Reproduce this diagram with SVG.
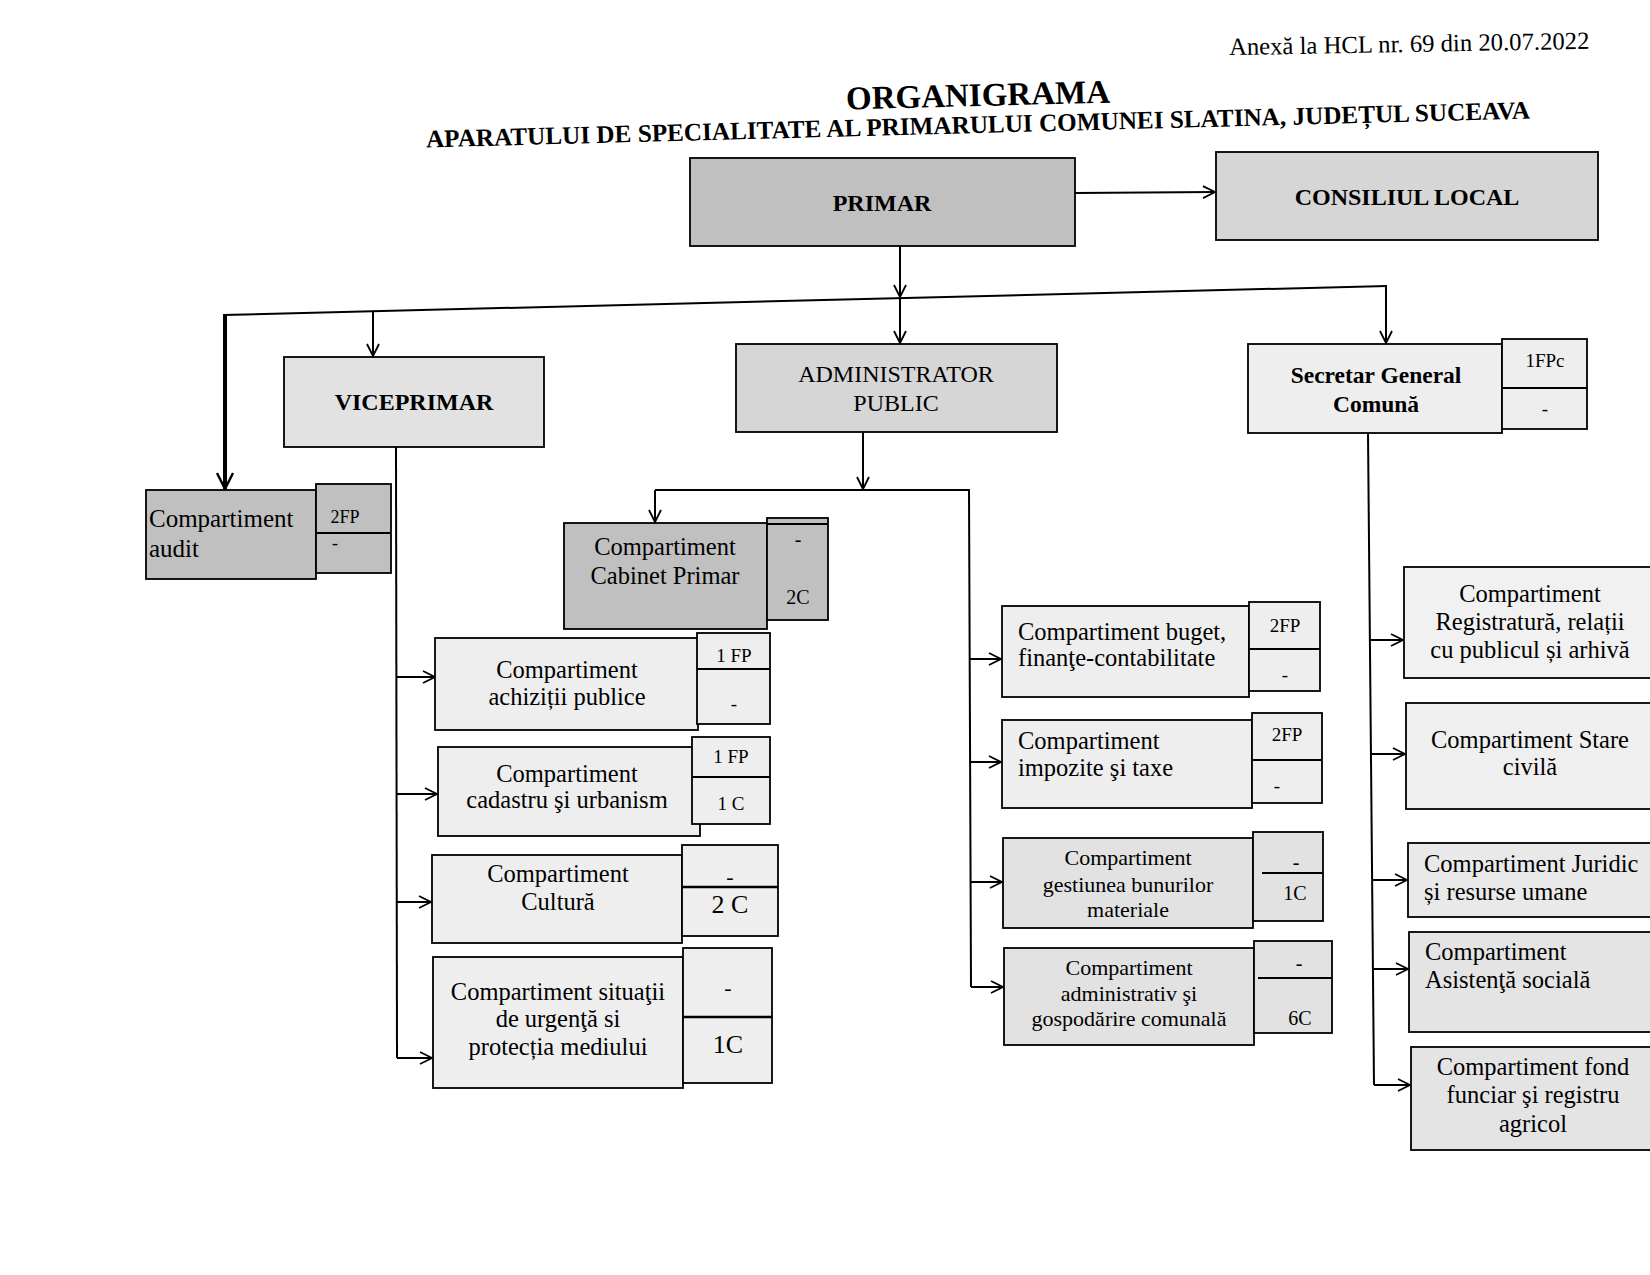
<svg xmlns="http://www.w3.org/2000/svg" width="1650" height="1275" viewBox="0 0 1650 1275">
<style>
text{font-family:"Liberation Serif","Times New Roman",serif;fill:#000;font-size:24.5px}
.c{text-anchor:middle}
.b{font-weight:bold}
.s{font-size:19px}
.m{font-size:22px}
.g{font-size:26px}
.f18{font-size:18px}
.f20{font-size:20px}
.f23{font-size:23.5px}
.f24{font-size:24px}
.f25{font-size:25px}
.f32{font-size:33px}
.hd{font-size:24.7px}
.sub{font-size:25.2px}
.box,.ln{stroke:#000;stroke-width:1.8}
.dk{fill:#c0c0c0}
.md{fill:#d6d6d6}
.lt{fill:#e2e2e2}
.xl{fill:#eeeeee}
.cn{fill:none;stroke:#000;stroke-width:2}
.ar{marker-end:url(#ah)}
</style>
<defs>
<marker id="ah" viewBox="0 0 14 14" refX="13" refY="7" markerWidth="14" markerHeight="14" markerUnits="userSpaceOnUse" orient="auto">
<path d="M1,1 L13,7 L1,13" fill="none" stroke="#000" stroke-width="1.8"/>
</marker>
<marker id="ahb" viewBox="0 0 18 18" refX="17" refY="9" markerWidth="18" markerHeight="18" markerUnits="userSpaceOnUse" orient="auto">
<path d="M1,1 L17,9 L1,17" fill="none" stroke="#000" stroke-width="2.4"/>
</marker>
</defs>
<rect x="0" y="0" width="1650" height="1275" fill="#fff"/>

<g id="header">
<text class="hd" x="1229" y="52" transform="rotate(-1 1408 45)">Anexă la HCL nr. 69 din 20.07.2022</text>
<text class="c b f32" x="978" y="106" transform="rotate(-1.5 978 95)">ORGANIGRAMA</text>
<text class="c b sub" x="978" y="133" transform="rotate(-1.5 978 124)">APARATULUI DE SPECIALITATE AL PRIMARULUI COMUNEI SLATINA, JUDEȚUL SUCEAVA</text>
</g>

<g id="connectors">
<line class="cn ar" x1="1075" y1="193" x2="1215" y2="192"/>
<line class="cn ar" x1="900" y1="246" x2="900" y2="297"/>
<line class="cn" x1="223" y1="315" x2="1387" y2="286" stroke-width="2.4"/>
<line class="cn ar" x1="373" y1="311" x2="373" y2="356"/>
<line class="cn ar" x1="900" y1="298" x2="900" y2="343"/>
<line class="cn ar" x1="1386" y1="286" x2="1386" y2="343"/>
<line class="cn" x1="225" y1="315" x2="225" y2="489" style="stroke-width:4" marker-end="url(#ahb)"/>
<line class="cn" x1="396" y1="447" x2="397" y2="1058"/>
<line class="cn ar" x1="396" y1="677" x2="435" y2="677"/>
<line class="cn ar" x1="396" y1="794" x2="437" y2="794"/>
<line class="cn ar" x1="397" y1="902" x2="431" y2="902"/>
<line class="cn ar" x1="397" y1="1058" x2="432" y2="1058"/>
<line class="cn ar" x1="863" y1="432" x2="863" y2="489"/>
<polyline class="cn" points="655,490 969,490 971,987"/>
<line class="cn ar" x1="655" y1="490" x2="655" y2="522"/>
<line class="cn ar" x1="969" y1="659" x2="1001" y2="659"/>
<line class="cn ar" x1="970" y1="762" x2="1001" y2="762"/>
<line class="cn ar" x1="970" y1="882" x2="1002" y2="882"/>
<line class="cn ar" x1="971" y1="987" x2="1003" y2="987"/>
<line class="cn" x1="1368" y1="433" x2="1374" y2="1085"/>
<line class="cn ar" x1="1370" y1="640" x2="1403" y2="640"/>
<line class="cn ar" x1="1371" y1="754" x2="1405" y2="754"/>
<line class="cn ar" x1="1372" y1="880" x2="1407" y2="880"/>
<line class="cn ar" x1="1373" y1="969" x2="1408" y2="969"/>
<line class="cn ar" x1="1374" y1="1085" x2="1410" y2="1085"/>
</g>

<g id="primar">
<rect class="box dk" x="690" y="158" width="385" height="88"/>
<text class="c b f24" x="882" y="211">PRIMAR</text>
</g>

<g id="consiliul-local">
<rect class="box md" x="1216" y="152" width="382" height="88"/>
<text class="c b f24" x="1407" y="205">CONSILIUL LOCAL</text>
</g>

<g id="viceprimar">
<rect class="box lt" x="284" y="357" width="260" height="90"/>
<text class="c b f24" x="414" y="410">VICEPRIMAR</text>
</g>

<g id="administrator-public">
<rect class="box md" x="736" y="344" width="321" height="88"/>
<text class="c f24" x="896" y="382">ADMINISTRATOR</text>
<text class="c f24" x="896" y="411">PUBLIC</text>
</g>

<g id="secretar-general">
<rect class="box xl" x="1248" y="344" width="254" height="89"/>
<rect class="box xl" x="1502" y="339" width="85" height="90"/>
<line class="ln" x1="1502" y1="388" x2="1587" y2="388"/>
<text class="c b f23" x="1376" y="383">Secretar General</text>
<text class="c b f23" x="1376" y="412">Comună</text>
<text class="c s" x="1545" y="367">1FPc</text>
<text class="c s" x="1545" y="415">-</text>
</g>

<g id="compartiment-audit">
<rect class="box dk" x="146" y="490" width="170" height="89"/>
<rect class="box dk" x="316" y="484" width="75" height="89"/>
<line class="ln" x1="316" y1="533" x2="391" y2="533"/>
<text class="f25" x="149" y="527">Compartiment</text>
<text class="f25" x="149" y="557">audit</text>
<text class="c f18" x="345" y="523">2FP</text>
<text class="f18" x="332" y="549">-</text>
</g>

<g id="cabinet-primar">
<rect class="box dk" x="564" y="523" width="203" height="106"/>
<rect class="box dk" x="767" y="518" width="61" height="102"/>
<line class="ln" x1="767" y1="524" x2="828" y2="524"/>
<text class="c" x="665" y="555">Compartiment</text>
<text class="c" x="665" y="584">Cabinet Primar</text>
<text class="c f20" x="798" y="546">-</text>
<text class="c f20" x="798" y="604">2C</text>
</g>

<g id="achizitii-publice">
<rect class="box xl" x="435" y="638" width="263" height="92"/>
<rect class="box xl" x="697" y="633" width="73" height="91"/>
<line class="ln" x1="697" y1="669" x2="770" y2="669"/>
<text class="c" x="567" y="678">Compartiment</text>
<text class="c" x="567" y="705">achiziții publice</text>
<text class="c s" x="734" y="662">1 FP</text>
<text class="c s" x="734" y="710">-</text>
</g>

<g id="cadastru-urbanism">
<rect class="box xl" x="438" y="747" width="262" height="89"/>
<rect class="box xl" x="692" y="737" width="78" height="87"/>
<line class="ln" x1="692" y1="777" x2="770" y2="777"/>
<text class="c" x="567" y="782">Compartiment</text>
<text class="c" x="567" y="808">cadastru şi urbanism</text>
<text class="c s" x="731" y="763">1 FP</text>
<text class="c s" x="731" y="810">1 C</text>
</g>

<g id="cultura">
<rect class="box xl" x="432" y="855" width="250" height="88"/>
<rect class="box xl" x="682" y="845" width="96" height="91"/>
<line class="ln" x1="682" y1="887" x2="778" y2="887" style="stroke-width:2.4"/>
<text class="c" x="558" y="882">Compartiment</text>
<text class="c" x="558" y="910">Cultură</text>
<text class="c m" x="730" y="884">-</text>
<text class="c g" x="730" y="913">2 C</text>
</g>

<g id="situatii-urgenta">
<rect class="box xl" x="433" y="957" width="250" height="131"/>
<rect class="box xl" x="683" y="948" width="89" height="135"/>
<line class="ln" x1="683" y1="1017" x2="772" y2="1017" style="stroke-width:2.4"/>
<text class="c" x="558" y="1000">Compartiment situaţii</text>
<text class="c" x="558" y="1027">de urgenţă si</text>
<text class="c" x="558" y="1055">protecția mediului</text>
<text class="c m" x="728" y="995">-</text>
<text class="c g" x="728" y="1053">1C</text>
</g>

<g id="buget-finante">
<rect class="box xl" x="1002" y="606" width="247" height="91"/>
<rect class="box xl" x="1249" y="602" width="71" height="89"/>
<line class="ln" x1="1249" y1="649" x2="1320" y2="649"/>
<text x="1018" y="640">Compartiment buget,</text>
<text x="1018" y="666">finanţe-contabilitate</text>
<text class="c s" x="1285" y="632">2FP</text>
<text class="c s" x="1285" y="681">-</text>
</g>

<g id="impozite-taxe">
<rect class="box xl" x="1002" y="720" width="250" height="88"/>
<rect class="box xl" x="1252" y="713" width="70" height="90"/>
<line class="ln" x1="1252" y1="760" x2="1322" y2="760"/>
<text x="1018" y="749">Compartiment</text>
<text x="1018" y="776">impozite şi taxe</text>
<text class="c s" x="1287" y="741">2FP</text>
<text class="c s" x="1277" y="792">-</text>
</g>

<g id="gestiunea-bunurilor">
<rect class="box lt" x="1003" y="838" width="250" height="90"/>
<rect class="box lt" x="1253" y="832" width="70" height="89"/>
<line class="ln" x1="1262" y1="873" x2="1323" y2="873"/>
<text class="c m" x="1128" y="865">Compartiment</text>
<text class="c m" x="1128" y="892">gestiunea bunurilor</text>
<text class="c m" x="1128" y="917">materiale</text>
<text class="c f20" x="1296" y="869">-</text>
<text class="c f20" x="1295" y="900">1C</text>
</g>

<g id="administrativ-gospodarire">
<rect class="box lt" x="1004" y="948" width="250" height="97"/>
<rect class="box lt" x="1254" y="941" width="78" height="92"/>
<line class="ln" x1="1258" y1="978" x2="1332" y2="978"/>
<text class="c m" x="1129" y="975">Compartiment</text>
<text class="c m" x="1129" y="1001">administrativ şi</text>
<text class="c m" x="1129" y="1026">gospodărire comunală</text>
<text class="c f20" x="1299" y="970">-</text>
<text class="c f20" x="1300" y="1025">6C</text>
</g>

<g id="registratura">
<rect class="box" fill="#f1f1f1" x="1404" y="567" width="260" height="111"/>
<text class="c" x="1530" y="602">Compartiment</text>
<text class="c" x="1530" y="630">Registratură, relații</text>
<text class="c" x="1530" y="658">cu publicul și arhivă</text>
</g>

<g id="stare-civila">
<rect class="box" fill="#efefef" x="1406" y="703" width="260" height="106"/>
<text class="c" x="1530" y="748">Compartiment Stare</text>
<text class="c" x="1530" y="775">civilă</text>
</g>

<g id="juridic-resurse-umane">
<rect class="box" fill="#e9e9e9" x="1408" y="843" width="260" height="74"/>
<text x="1424" y="872">Compartiment Juridic</text>
<text x="1424" y="900">și resurse umane</text>
</g>

<g id="asistenta-sociala">
<rect class="box" fill="#e4e4e4" x="1409" y="932" width="260" height="100"/>
<text x="1425" y="960">Compartiment</text>
<text x="1425" y="988">Asistenţă socială</text>
</g>

<g id="fond-funciar">
<rect class="box" fill="#e4e4e4" x="1411" y="1047" width="260" height="103"/>
<text class="c" x="1533" y="1075">Compartiment fond</text>
<text class="c" x="1533" y="1103">funciar şi registru</text>
<text class="c" x="1533" y="1132">agricol</text>
</g>
</svg>
